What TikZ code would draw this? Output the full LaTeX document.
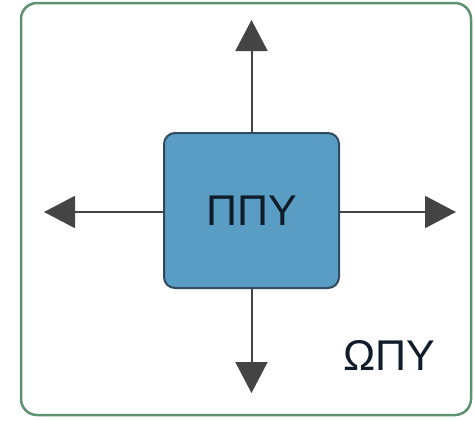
\documentclass[tikz,border=0pt]{standalone}
\usepackage{fontspec}
\setmainfont{Liberation Sans}
\usetikzlibrary{arrows.meta}
\definecolor{outerg}{HTML}{5E9270}
\definecolor{boxfill}{HTML}{5A9DC4}
\definecolor{boxdraw}{HTML}{2F4A5E}
\definecolor{arrowc}{HTML}{444444}
\definecolor{txt}{HTML}{111C2A}
\begin{document}
\begin{tikzpicture}[x=1pt,y=-1pt,
  frame/.style={draw=outerg,line width=2.5pt,rounded corners=16pt},
  core/.style={draw=boxdraw,fill=boxfill,line width=2pt,rounded corners=11pt,minimum width=175pt,minimum height=155pt,inner sep=0pt,font=\fontsize{43}{43}\selectfont,text=txt},
  lab/.style={font=\fontsize{43}{43}\selectfont,text=txt,inner sep=0pt},
  arr/.style={draw=arrowc,line width=2pt,-{Triangle[length=31pt,width=32pt]},fill=arrowc}]
\useasboundingbox (0,0) rectangle (475,421);
\draw[frame] (21,3) rectangle (471,415);
\node[core] (c) at (251.5,210.5) {ΠΠΥ};
\coordinate (up) at (251.5,20);
\coordinate (dn) at (251.5,393);
\coordinate (lt) at (44,212);
\coordinate (rt) at (456,212);
\draw[arr] (c.north) -- (up);
\draw[arr] (c.south) -- (dn);
\draw[arr] (c.west |- lt) -- (lt);
\draw[arr] (c.east |- rt) -- (rt);
\node[lab] (w) at (389,355) {ΩΠΥ};
\end{tikzpicture}
\end{document}
